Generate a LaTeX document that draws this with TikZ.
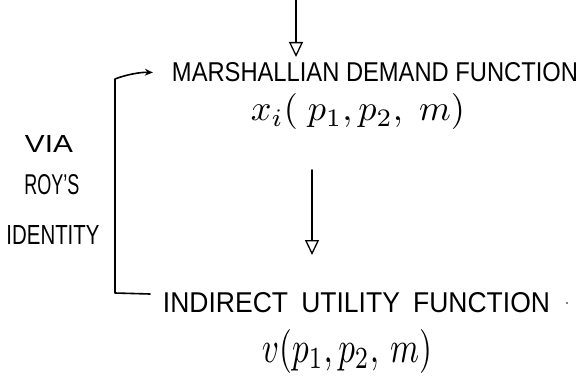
\documentclass[tikz,border=0pt]{standalone}
\usepackage{fontspec}
\usepackage{graphicx}
\setmainfont{Liberation Sans}
\usetikzlibrary{arrows.meta}
\begin{document}
\begin{tikzpicture}[x=1pt,y=-1pt,
  ink/.style={line width=1.6pt, line cap=round, line join=round},
  head/.style={-{Triangle[open,length=15pt,width=14pt,line width=1.3pt]}},
  lbl/.style={inner sep=0pt}]
\useasboundingbox (0,0) rectangle (583,377);
\node[lbl] (mdf) at (375,72.5) {\resizebox{406pt}{19pt}{MARSHALLIAN DEMAND FUNCTION}};
\node[lbl] (xi) at (358,112) {\resizebox{214pt}{27pt}{$x_i(\;p_1, p_2,\; m)$}};
\node[lbl] (iuf) at (356.5,303) {\resizebox{387pt}{20pt}{INDIRECT\enspace UTILITY\enspace FUNCTION}};
\node[lbl] (v) at (347,351) {\resizebox{170pt}{33pt}{$v(p_1, p_2,\, m)$}};
\node[lbl] (dot) at (567,303) {\tikz\fill (0,0) circle (0.8pt);};
\node[lbl] (via) at (49,143.5) {\resizebox{48pt}{17pt}{VIA}};
\node[lbl] (roys) at (52,185) {\resizebox{55pt}{20pt}{ROY'S}};
\node[lbl] (ident) at (53,235) {\resizebox{93pt}{19pt}{IDENTITY}};
\coordinate (top) at (296,0);
\coordinate (topend) at (296,57);
\coordinate (m1) at (312,170);
\coordinate (m2) at (312,255);
\coordinate (b1) at (115,79);
\coordinate (b2) at (115,293);
\coordinate (b3) at (150,294);
\draw[ink,head] (top) -- (topend);
\draw[ink,head] (m1) -- (m2);
\draw[ink,-{Stealth[length=8pt,width=7pt]}] (b3) -- (b2) -- (b1) .. controls (125,75) and (140,72) .. ([xshift=-19pt]mdf.west);
\end{tikzpicture}
\end{document}
